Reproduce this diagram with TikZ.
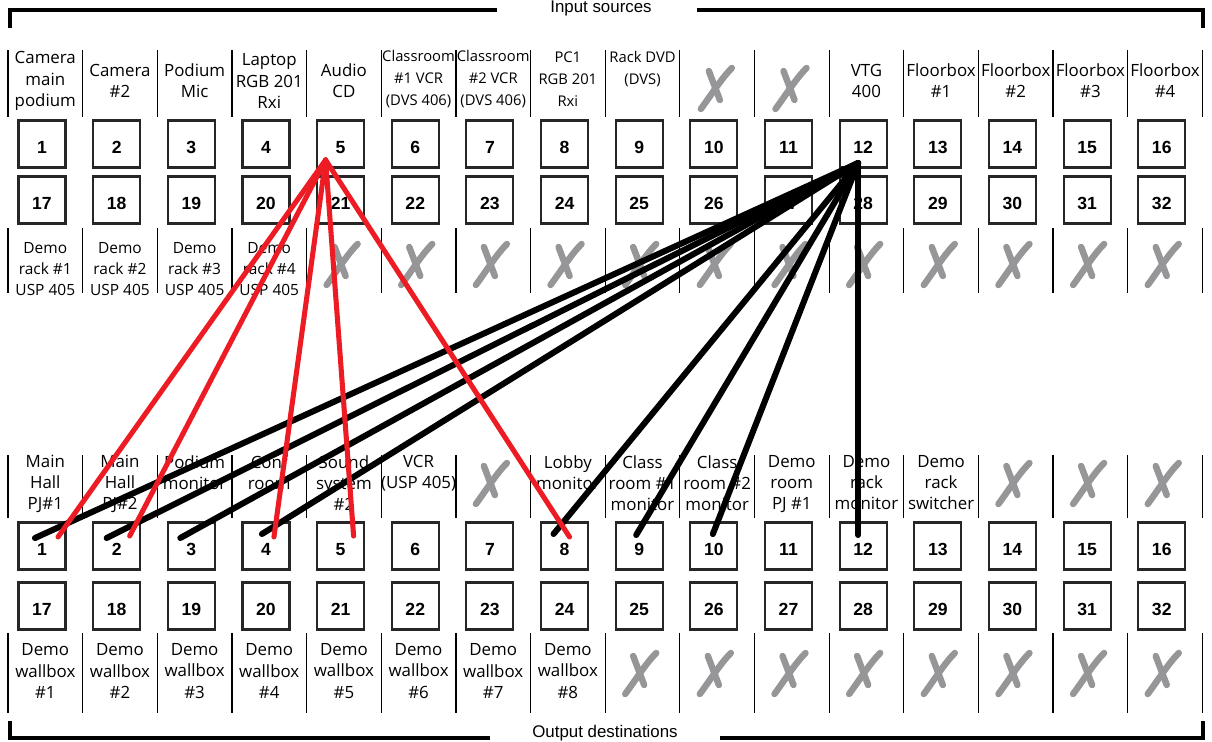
\documentclass[tikz,border=0pt]{standalone}
\usepackage{fontspec}
\setmainfont{Liberation Sans}
\newfontfamily\handfont{Open Sans}
\usetikzlibrary{positioning, calc}

\definecolor{wirered}{RGB}{237,28,36}
\definecolor{crossgray}{RGB}{150,150,153}

\tikzset{
  port/.style={draw=black!85, line width=1.5pt, minimum size=1.175cm, inner sep=0pt,
    text height=13pt, text depth=0pt, font=\bfseries\fontsize{12.5}{14}\selectfont},
  divider/.style={line width=0.9pt},
  lbl/.style={font=\handfont\fontsize{12}{15}\selectfont, align=center, inner sep=0pt},
  lblmid/.style={font=\handfont\fontsize{11}{15}\selectfont, align=center, inner sep=0pt},
  lblsmall/.style={font=\handfont\fontsize{10.5}{15.5}\selectfont, align=center, inner sep=0pt},
  crossmark/.style={crossgray, line width=4.6pt, line cap=round},
  bracket/.style={line width=2.2pt},
  redwire/.style={wirered, line width=3.6pt, line cap=round},
  blackwire/.style={black, line width=4.3pt, line cap=round},
  heading/.style={font=\fontsize{12}{14}\selectfont, inner sep=0pt}
}

% mark for an unused channel
\newcommand{\unused}[2]{%
  \draw[crossmark] (#1-15,#2+21) .. controls (#1-4,#2+6) and (#1+6,#2-10) .. (#1+16,#2-20);
  \draw[crossmark] (#1-7,#2-17) -- (#1+4,#2+12);
}

\begin{document}
\begin{tikzpicture}[x=0.025cm, y=-0.025cm]
    \useasboundingbox (0,0) rectangle (1212,742);

    % Headings with brackets
    \node[heading] (intitle) at (601,8) {Input sources};
    \node[heading] (outtitle) at (605,733) {Output destinations};
    \draw[bracket] (497,10) -- (10,10) -- (10,28);
    \draw[bracket] (697,10) -- (1203,10) -- (1203,28);
    \draw[bracket] (490,738) -- (10,738) -- (10,721);
    \draw[bracket] (720,738) -- (1203,738) -- (1203,721);

    % Dividers between label cells
    \foreach \k in {0,...,16}{
        \pgfmathsetmacro\sx{8+74.65*\k}
        \draw[divider] (\sx,50) -- (\sx,117);
        \draw[divider] (\sx,228) -- (\sx,293);
        \draw[divider] (\sx,455) -- (\sx,518);
        \draw[divider] (\sx,633) -- (\sx,713);
    }

    % Input and output ports
    \foreach \i in {1,...,16}{
        \pgfmathsetmacro\bx{42+74.65*(\i-1)}
        \pgfmathtruncatemacro\j{\i+16}
        \node[port] (src\i) at (\bx,144) {\i};
        \node[port] (src\j) at (\bx,200) {\j};
        \node[port] (dst\i) at (\bx,546) {\i};
        \node[port] (dst\j) at (\bx,606) {\j};
    }

    % Source names, upper row
    \foreach \i/\s/\y/\t in {1/lbl/81/{Camera\\main\\podium}, 2/lbl/81/{Camera\\\#2},
        3/lbl/81/{Podium\\Mic}, 4/lbl/81/{Laptop\\RGB 201\\Rxi}, 5/lbl/81/{Audio\\CD},
        6/lblsmall/79/{Classroom\\\#1 VCR\\(DVS 406)}, 7/lblsmall/79/{Classroom\\\#2 VCR\\(DVS 406)},
        8/lblsmall/79/{PC1\\RGB 201\\Rxi}, 9/lblsmall/69/{Rack DVD\\(DVS)},
        12/lbl/81/{VTG\\400}, 13/lbl/81/{Floorbox\\\#1}, 14/lbl/81/{Floorbox\\\#2},
        15/lbl/81/{Floorbox\\\#3}, 16/lbl/81/{Floorbox\\\#4}}{
        \pgfmathsetmacro\lx{45.3+74.65*(\i-1)}
        \node[\s] (srcl\i) at (\lx,\y) {\t};
    }

    % Source names, lower row
    \foreach \i in {1,...,4}{
        \pgfmathsetmacro\lx{45.3+74.65*(\i-1)}
        \node[lblmid] (srcb\i) at (\lx,269) {Demo\\rack \#\i\\USP 405};
    }

    % Destination names, upper row
    \foreach \i/\t in {1/{Main\\Hall\\PJ\#1}, 2/{Main\\Hall\\PJ\#2}, 3/{Podium\\monitor},
        4/{Conf\\room}, 5/{Sound\\system\\\#2}, 6/{VCR\\(USP 405)}, 8/{Lobby\\monitor},
        9/{Class\\room \#1\\monitor}, 10/{Class\\room \#2\\monitor}, 11/{Demo\\room\\PJ \#1},
        12/{Demo\\rack\\monitor}, 13/{Demo\\rack\\switcher}}{
        \pgfmathsetmacro\lx{45.3+74.65*(\i-1)}
        \node[lbl, anchor=north] (dstl\i) at (\lx,455) {\t};
    }

    % Destination names, lower row
    \foreach \i in {1,...,8}{
        \pgfmathsetmacro\lx{45.3+74.65*(\i-1)}
        \node[lbl] (dstb\i) at (\lx,671) {Demo\\wallbox\\\#\i};
    }

    % Unused channels
    \foreach \i in {10,11}{\pgfmathsetmacro\lx{44+74.65*(\i-1)}\unused{\lx}{88}}
    \foreach \i in {5,...,16}{\pgfmathsetmacro\lx{43+74.65*(\i-1)}\unused{\lx}{264}}
    \foreach \i in {7,14,15,16}{\pgfmathsetmacro\lx{43+74.65*(\i-1)}\unused{\lx}{483}}
    \foreach \i in {9,...,16}{\pgfmathsetmacro\lx{43+74.65*(\i-1)}\unused{\lx}{673}}

    % Routes from VTG 400
    \coordinate (hubB) at ([shift={(-5,19)}]src12.center);
    \foreach \d/\dx/\dy in {1/-7/-8, 2/-10/-8, 3/-11/-8, 4/-4/-12, 8/-11/-12,
        9/-3/-11, 10/-1/-12, 12/-5/-11}
        \draw[blackwire] (hubB) -- ([shift={(\dx,\dy)}]dst\d.center);

    % Routes from Audio CD
    \coordinate (hubA) at ([shift={(-15,16)}]src5.center);
    \foreach \d/\dx/\dy in {1/16/-9, 2/13/-10, 4/8/-9, 5/13/-10, 8/5/-9}
        \draw[redwire] (hubA) -- ([shift={(\dx,\dy)}]dst\d.center);

\end{tikzpicture}
\end{document}
